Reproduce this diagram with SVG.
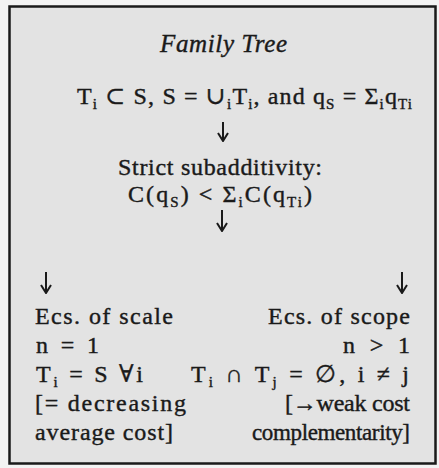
<svg xmlns="http://www.w3.org/2000/svg" width="439" height="468" viewBox="0 0 439 468">
<style>
.t{font-family:"Liberation Serif","DejaVu Serif","Times New Roman",serif;font-size:24px;fill:#1a1a1a;stroke:#1a1a1a;stroke-width:0.4}
.it{font-style:italic;font-size:25px}
.sub{font-size:15px}
.conn{stroke:#1a1a1a;stroke-width:2;fill:none}
</style>
<defs>
<marker id="ah" viewBox="0 0 12 12" refX="11" refY="6" markerWidth="12" markerHeight="12" markerUnits="userSpaceOnUse" orient="auto">
<path d="M3,1 L11,6 L3,11" fill="none" stroke="#1a1a1a" stroke-width="2"/>
</marker>
</defs>
<rect x="0" y="0" width="439" height="468" fill="#f3f3f3"/>
<rect id="frame" x="9.5" y="6.5" width="426" height="457" fill="#e3e3e3" stroke="#1a1a1a" stroke-width="2.5"/>

<g id="title">
<text class="t it" x="160" y="52" textLength="127" lengthAdjust="spacing">Family Tree</text>
</g>

<g id="premise">
<text class="t" x="77" y="104" textLength="335" lengthAdjust="spacing">T<tspan class="sub" dy="5">i</tspan><tspan dy="-5"> ⊂ S, S = ∪</tspan><tspan class="sub" dy="5">i</tspan><tspan dy="-5">T</tspan><tspan class="sub" dy="5">i</tspan><tspan dy="-5">, and q</tspan><tspan class="sub" dy="5">S</tspan><tspan dy="-5"> = Σ</tspan><tspan class="sub" dy="5">i</tspan><tspan dy="-5">q</tspan><tspan class="sub" dy="5">Ti</tspan></text>
</g>

<g id="subadditivity">
<text class="t" x="118" y="175" textLength="204" lengthAdjust="spacing">Strict subadditivity:</text>
<text class="t" x="128" y="202" textLength="184" lengthAdjust="spacing">C(q<tspan class="sub" dy="5">S</tspan><tspan dy="-5">) &lt; Σ</tspan><tspan class="sub" dy="5">i</tspan><tspan dy="-5">C(q</tspan><tspan class="sub" dy="5">Ti</tspan><tspan dy="-5">)</tspan></text>
</g>

<g id="scale">
<text class="t" x="35" y="324" textLength="138" lengthAdjust="spacing">Ecs. of scale</text>
<text class="t" x="36" y="353" textLength="63" lengthAdjust="spacing">n = 1</text>
<text class="t" x="36" y="382" textLength="107" lengthAdjust="spacing">T<tspan class="sub" dy="5">i</tspan><tspan dy="-5"> = S ∀i</tspan></text>
<text class="t" x="35" y="411" textLength="151" lengthAdjust="spacing">[= decreasing</text>
<text class="t" x="35" y="440" textLength="138" lengthAdjust="spacing">average cost]</text>
</g>

<g id="scope">
<text class="t" x="268" y="324" textLength="142" lengthAdjust="spacing">Ecs. of scope</text>
<text class="t" x="343" y="353" textLength="67" lengthAdjust="spacing">n &gt; 1</text>
<text class="t" x="191" y="382" textLength="218" lengthAdjust="spacing">T<tspan class="sub" dy="5">i</tspan><tspan dy="-5"> ∩ T</tspan><tspan class="sub" dy="5">j</tspan><tspan dy="-5"> = ∅, i ≠ j</tspan></text>
<text class="t" x="285" y="411" textLength="125" lengthAdjust="spacing">[→weak cost</text>
<text class="t" x="252" y="440" textLength="158" lengthAdjust="spacing" style="font-size:23px">complementarity]</text>
</g>

<g id="connectors">
<line class="conn" x1="223" y1="122" x2="223" y2="141" marker-end="url(#ah)"/>
<line class="conn" x1="222" y1="210" x2="222" y2="231" marker-end="url(#ah)"/>
<line class="conn" x1="46" y1="272" x2="46" y2="293" marker-end="url(#ah)"/>
<line class="conn" x1="402" y1="272" x2="402" y2="293" marker-end="url(#ah)"/>
</g>
</svg>
